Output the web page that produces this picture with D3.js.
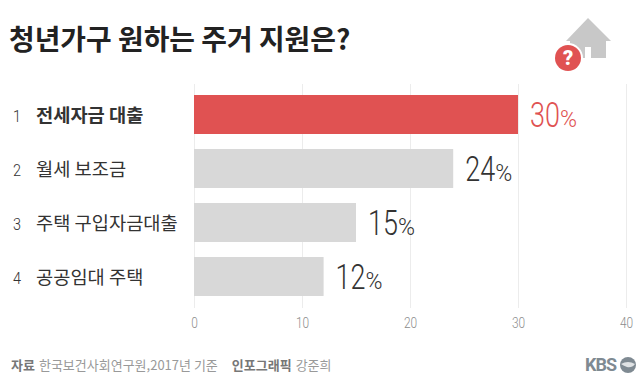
<!DOCTYPE html>
<html>
<head>
<meta charset="utf-8">
<style>
    html, body { margin: 0; padding: 0; background: #fff; }
    svg { display: block; }
    text { font-family: "Noto Sans CJK KR", sans-serif; }
    .num { font-family: "Roboto", sans-serif; font-weight: 300; }
    .axis path { display: none; }
    .axis line { stroke: #ececec; }
    .axis text { font-family: "Roboto", sans-serif; font-weight: 300; font-size: 14px; fill: #8c8c8c; }
</style>
</head>
<body>
<svg id="chart"></svg>
<script src="https://d3js.org/d3.v7.min.js"></script>
<script>
    const ranks = ["1", "2", "3", "4"];
    const categories = ["전세자금 대출", "월세 보조금", "주택 구입자금대출", "공공임대 주택"];
    const values = [30, 24, 15, 12];
    const ticks = [0, 10, 20, 30, 40];

    const svg = d3.select("#chart").attr("width", 640).attr("height", 391);

    const x = d3.scaleLinear().domain([0, 40]).range([194, 626]);
    const y = d3.scaleBand().domain(categories).range([87.5, 303.5]).paddingInner(0.278).paddingOuter(0.139);

    // axis with gridlines behind the bars
    const axis = svg.append("g")
        .attr("class", "axis")
        .attr("transform", "translate(0,308)")
        .call(d3.axisBottom(x).tickValues(ticks).tickSize(-224).tickPadding(10));
    // the original digits are a narrow face, so squeeze them
    axis.selectAll("text").attr("transform", "scale(.85,1)");
    axis.selectAll("line").attr("y2", -224);

    svg.append("text")
        .attr("x", 9).attr("y", 50)
        .attr("font-size", 27.9).attr("font-weight", 700).attr("fill", "#222")
        .text("청년가구 원하는 주거 지원은?");

    // house icon
    const icon = svg.append("g");
    icon.append("path")
        .attr("d", "M588,18L611,41H606V58H591V47H585V58H570V41H566Z")
        .attr("fill", "#c8c8c8");
    icon.append("circle").attr("cx", 568).attr("cy", 58).attr("r", 15).attr("fill", "#fff");
    icon.append("circle").attr("cx", 568).attr("cy", 58).attr("r", 13).attr("fill", "#e05252");
    icon.append("text")
        .attr("x", 568).attr("y", 65)
        .attr("text-anchor", "middle").attr("font-size", 20).attr("font-weight", 900).attr("fill", "#fff")
        .style("font-family", "Roboto, sans-serif")
        .text("?");

    const rows = svg.selectAll(".row")
        .data(categories)
        .enter().append("g")
        .attr("class", "row");

    rows.append("rect")
        .attr("x", x(0))
        .attr("y", d => y(d))
        .attr("width", (d, i) => x(values[i]) - x(0))
        .attr("height", y.bandwidth())
        .attr("fill", (d, i) => i === 0 ? "#e05252" : "#d8d8d8");

    rows.append("text")
        .attr("class", "num")
        .attr("transform", d => "translate(13," + (y(d) + y.bandwidth() / 2 + 7) + ") scale(.85,1)")
        .attr("font-size", 17)
        .attr("font-weight", 400)
        .attr("fill", "#333")
        .text((d, i) => ranks[i]);

    rows.append("text")
        .attr("x", 36)
        .attr("y", d => y(d) + y.bandwidth() / 2 + 7)
        .attr("font-size", 18.7)
        .attr("font-weight", (d, i) => i === 0 ? 700 : 400)
        .attr("fill", "#333")
        .text(d => d);

    const valueColor = (d, i) => i === 0 ? "#e05252" : "#333";

    rows.append("text")
        .attr("class", "num")
        .attr("transform", (d, i) => "translate(" + (x(values[i]) + 12) + "," + (y(d) + y.bandwidth() / 2 + 12) + ") scale(.77,1)")
        .attr("font-size", 35)
        .attr("fill", valueColor)
        .text((d, i) => values[i]);

    rows.append("text")
        .attr("class", "num")
        .attr("x", (d, i) => x(values[i]) + 42)
        .attr("y", d => y(d) + y.bandwidth() / 2 + 12)
        .attr("font-size", 23)
        .attr("fill", valueColor)
        .text("%");

    // source line
    const source = svg.append("text")
        .attr("x", 11).attr("y", 370)
        .attr("font-size", 13).attr("fill", "#999");
    source.append("tspan").attr("font-weight", 700).attr("fill", "#777").text("자료");
    source.append("tspan").attr("dx", 4).text("한국보건사회연구원,2017년 기준");
    source.append("tspan").attr("dx", 14).attr("font-weight", 700).attr("fill", "#777").text("인포그래픽");
    source.append("tspan").attr("dx", 4).text("강준희");

    // KBS logo
    svg.append("text")
        .attr("x", 585).attr("y", 371)
        .attr("font-size", 18).attr("font-weight", 700).attr("fill", "#7f8a92")
        .attr("letter-spacing", -1)
        .style("font-family", "Roboto, sans-serif")
        .text("KBS");
    svg.append("circle").attr("cx", 628).attr("cy", 365).attr("r", 8).attr("fill", "#7f8a92");
    svg.append("path").attr("d", "M621,364Q628,360 635,364Q632,368 627,367Q624,366 621,364Z").attr("fill", "#dfe2e4");
</script>
</body>
</html>
